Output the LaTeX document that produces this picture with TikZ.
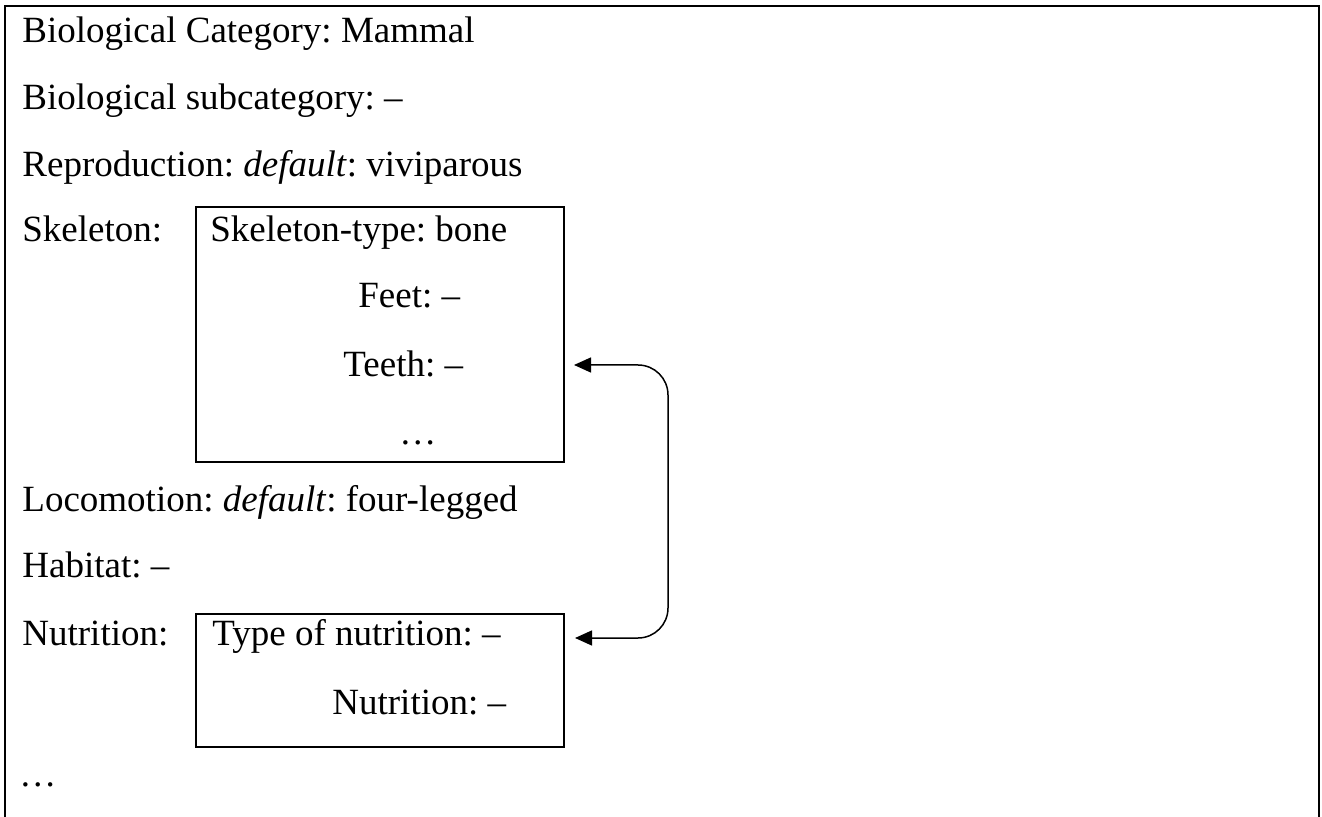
\documentclass[tikz,border=0pt]{standalone}
\usepackage{fontspec}
\setmainfont{Liberation Serif}
\usetikzlibrary{arrows.meta}
\frenchspacing

\tikzset{
  field/.style={anchor=base west, inner sep=0pt, font=\fontsize{18.5}{22}\selectfont},
  subbox/.style={draw, line width=1pt, inner sep=0pt, minimum width=184pt},
  link/.style={line width=0.75pt, {Triangle[length=8.5pt,width=7.5pt]}-{Triangle[length=8.5pt,width=7.5pt]}, rounded corners=15pt},
}

\begin{document}
\begin{tikzpicture}[x=0.5pt, y=-0.5pt]
  \useasboundingbox (0,0) rectangle (1322,817);
  \draw[line width=1.4pt] (5,817) -- (5,6) -- (1319,6) -- (1319,817);
  \node[subbox, minimum height=127.5pt] (skelbox) at (380,334.5) {};
  \node[subbox, minimum height=66.5pt] (nutbox) at (380,680.5) {};
  \node[field] (cat) at (22,43) {Biological Category: Mammal};
  \node[field] (subcat) at (22,110) {Biological subcategory: –};
  \node[field] (repro) at (22,177) {Reproduction: \textit{default}: viviparous};
  \node[field] (skel) at (22,242) {Skeleton:};
  \node[field] (skeltype) at (210,242) {Skeleton-type: bone};
  \node[field] (feet) at (358,308) {Feet: –};
  \node[field] (teeth) at (343,377) {Teeth: –};
  \node[field] (skeldots) at (399,445) {…};
  \node[field] (loco) at (22,512) {Locomotion: \textit{default}: four-legged};
  \node[field] (habitat) at (22,578) {Habitat: –};
  \node[field] (nutr) at (22,645) {Nutrition:};
  \node[field] (nuttype) at (212,645) {Type of nutrition: –};
  \node[field] (nutsub) at (332,714) {Nutrition: –};
  \node[field] (moredots) at (19,786) {…};
  \coordinate (teethin) at (574,365);
  \coordinate (nutin) at (575,638);
  \draw[link] (teethin) -- ++(94,0) |- (nutin);
\end{tikzpicture}
\end{document}
